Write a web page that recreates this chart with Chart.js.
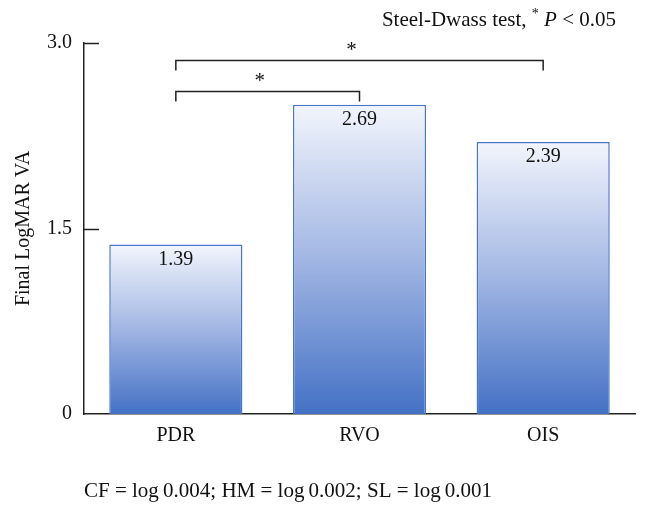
<!DOCTYPE html>
<html>
<head>
<meta charset="utf-8">
<script src="https://cdn.jsdelivr.net/npm/chart.js@4"></script>
<style>
  html, body { margin: 0; padding: 0; background: #ffffff; }
  #wrap { width: 646px; height: 514px; position: relative; }
</style>
</head>
<body>
<div id="wrap"><canvas id="grafica"></canvas></div>
<script>
/* ===== DATOS ===== */

const CATEGORIAS      = ["PDR", "RVO", "OIS"];
const VALORES         = [1.37, 2.50, 2.20];
const ETIQUETAS_VALOR = ["1.39", "2.69", "2.39"];    // texto impreso dentro de cada barra
const TICKS_Y         = [0, 1.5, 3.0];

// comparaciones Steel-Dwass: desde / hasta (índice de categoría) y nivel en el eje
const COMP_DESDE = [0, 0];
const COMP_HASTA = [2, 1];
const COMP_NIVEL = [2.86, 2.61];

const FUENTE = "'Liberation Serif', 'DejaVu Serif', serif";

/* ===== GRADIENTE DE LAS BARRAS ===== */

function colorBarra(contexto) {
  const chart = contexto.chart;
  if (!chart.chartArea) return "#8aa5dc";
  const ejeY = chart.scales.y;
  const arriba = ejeY.getPixelForValue(VALORES[contexto.dataIndex]);
  const abajo  = ejeY.getPixelForValue(0);
  const g = chart.ctx.createLinearGradient(0, arriba, 0, abajo);
  g.addColorStop(0, "#f2f5fc");
  g.addColorStop(0.5, "#a1b6e3");
  g.addColorStop(1, "#4471c5");
  return g;
}

/* ===== PLUGIN: textos, marcas y corchetes ===== */

const pluginAnotaciones = {
  id: "anotaciones",
  afterDraw(chart) {
    const ctx = chart.ctx;
    const ejeX = chart.scales.x;
    const ejeY = chart.scales.y;
    const area = chart.chartArea;

    ctx.save();

    // marcas del eje Y hacia dentro
    ctx.strokeStyle = "#222";
    ctx.lineWidth = 1.5;
    TICKS_Y.forEach(function(v) {
      if (v === 0) return;
      const y = Math.round(ejeY.getPixelForValue(v)) + 0.5;
      ctx.beginPath();
      ctx.moveTo(area.left, y);
      ctx.lineTo(area.left + 15, y);
      ctx.stroke();
    });

    // etiquetas de valor dentro de las barras
    ctx.fillStyle = "#111";
    ctx.font = "20px " + FUENTE;
    ctx.textAlign = "center";
    ctx.textBaseline = "middle";
    chart.getDatasetMeta(0).data.forEach(function(barra, i) {
      ctx.fillText(ETIQUETAS_VALOR[i], barra.x, barra.y + 15);
    });

    // corchetes de significación
    ctx.lineWidth = 1.5;
    COMP_DESDE.forEach(function(desde, i) {
      const x1 = ejeX.getPixelForValue(desde);
      const x2 = ejeX.getPixelForValue(COMP_HASTA[i]);
      const y  = Math.round(ejeY.getPixelForValue(COMP_NIVEL[i])) + 0.5;
      ctx.beginPath();
      ctx.moveTo(x1, y + 10);
      ctx.lineTo(x1, y);
      ctx.lineTo(x2, y);
      ctx.lineTo(x2, y + 10);
      ctx.stroke();
      ctx.font = "21px " + FUENTE;
      ctx.fillText("*", (x1 + x2) / 2 - 8, y - 10);
    });

    // leyenda de la prueba (arriba a la derecha)
    const partes = [
      { t: "Steel-Dwass test, ", f: "21px " + FUENTE, dy: 0 },
      { t: "*", f: "14px " + FUENTE, dy: -6 },
      { t: " ", f: "21px " + FUENTE, dy: 0 },
      { t: "P", f: "italic 21px " + FUENTE, dy: 0 },
      { t: " < 0.05", f: "21px " + FUENTE, dy: 0 },
    ];
    let ancho = 0;
    partes.forEach(function(p) { ctx.font = p.f; ancho += ctx.measureText(p.t).width; });
    let x = 616 - ancho;
    ctx.textAlign = "left";
    partes.forEach(function(p) {
      ctx.font = p.f;
      ctx.fillText(p.t, x, 20 + p.dy);
      x += ctx.measureText(p.t).width;
    });

    // nota al pie
    ctx.font = "21px " + FUENTE;
    ctx.fillText("CF = log\u20090.004; HM = log\u20090.002; SL = log\u20090.001", 84, 491);

    ctx.restore();
  },
};

/* ===== GRÁFICA ===== */

function inicializar() {
  const lienzo = document.getElementById("grafica");

  new Chart(lienzo, {
    type: "bar",
    data: {
      labels: CATEGORIAS,
      datasets: [{
        data: VALORES,
        backgroundColor: colorBarra,
        borderColor: "#4a76c6",
        borderWidth: 1.5,
        borderSkipped: "bottom",
        categoryPercentage: 0.725,
        barPercentage: 1,
      }],
    },
    options: {
      responsive: true,
      maintainAspectRatio: false,
      animation: false,
      layout: { padding: { top: 43, right: 11, left: 0, bottom: 0 } },
      plugins: {
        legend: { display: false },
        tooltip: { enabled: false },
      },
      scales: {
        x: {
          grid: { display: false },
          border: { display: true, color: "#222", width: 1.5 },
          ticks: { color: "#111", font: { family: FUENTE, size: 20 }, padding: 2 },
          afterFit: function(escala) { escala.height = 100; },
        },
        y: {
          min: 0,
          max: 3,
          afterBuildTicks: function(escala) {
            escala.ticks = TICKS_Y.map(function(v) { return { value: v }; });
          },
          grid: { display: false },
          border: { display: true, color: "#222", width: 1.5 },
          ticks: {
            color: "#111",
            font: { family: FUENTE, size: 20 },
            padding: 4,
            callback: function(v) { return v === 0 ? "0" : v.toFixed(1); },
          },
          title: {
            display: true,
            text: "Final LogMAR VA",
            color: "#111",
            font: { family: FUENTE, size: 20 },
            padding: { top: 12, bottom: 0 },
          },
          afterFit: function(escala) { escala.width = 84; },
        },
      },
    },
    plugins: [pluginAnotaciones],
  });
}

document.addEventListener("DOMContentLoaded", inicializar);
</script>
</body>
</html>
